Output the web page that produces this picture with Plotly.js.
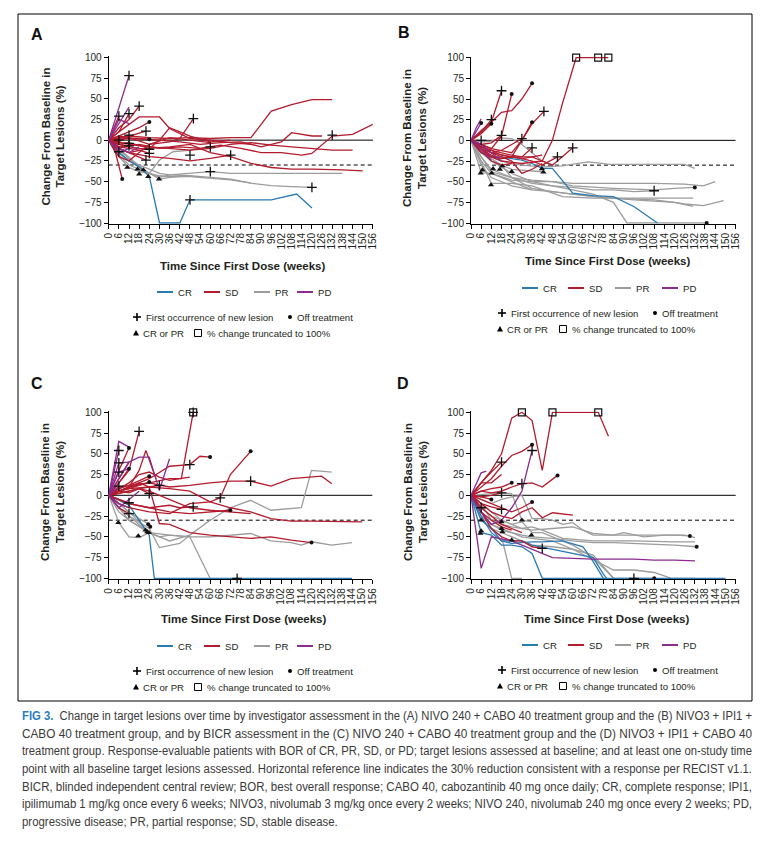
<!DOCTYPE html>
<html><head><meta charset="utf-8">
<script src="https://cdn.plot.ly/plotly-3.0.1.min.js"></script>
<style>
html,body{margin:0;padding:0;background:#fff;}
#wrap{position:relative;width:769px;height:844px;overflow:hidden;}
#chart{position:absolute;left:0;top:0;width:769px;height:844px;}
#cap{position:absolute;left:22px;top:708px;width:730px;font-family:"Liberation Sans",Arial,sans-serif;font-size:12px;line-height:17.7px;color:#3a3a3a;}
#cap div{white-space:nowrap;height:17.7px;}
#cap span{display:inline-block;transform-origin:0 50%;}
#cap b{color:#2a7dbf;}
</style></head>
<body><div id="wrap"><div id="chart"></div>
<div id="cap">
<div><span><b>FIG 3.</b>&nbsp; Change in target lesions over time by investigator assessment in the (A) NIVO 240 + CABO 40 treatment group and the (B) NIVO3 + IPI1 +</span></div>
<div><span>CABO 40 treatment group, and by BICR assessment in the (C) NIVO 240 + CABO 40 treatment group and the (D) NIVO3 + IPI1 + CABO 40</span></div>
<div><span>treatment group. Response-evaluable patients with BOR of CR, PR, SD, or PD; target lesions assessed at baseline; and at least one on-study time</span></div>
<div><span>point with all baseline target lesions assessed. Horizontal reference line indicates the 30% reduction consistent with a response per RECIST v1.1.</span></div>
<div><span>BICR, blinded independent central review; BOR, best overall response; CABO 40, cabozantinib 40 mg once daily; CR, complete response; IPI1,</span></div>
<div><span>ipilimumab 1 mg/kg once every 6 weeks; NIVO3, nivolumab 3 mg/kg once every 2 weeks; NIVO 240, nivolumab 240 mg once every 2 weeks; PD,</span></div>
<div class="last"><span>progressive disease; PR, partial response; SD, stable disease.</span></div>
</div></div>
<script>
// ---------- tick labels ----------
const weekTicks = [0,6,12,18,24,30,36,42,48,54,60,66,72,78,84,90,96,102,108,114,120,126,132,138,144,150,156];
const pctTicks = [-100,-75,-50,-25,0,25,50,75,100];
const borNames = ['CR','SD','PR','PD'];
const panelLetters = ['A','B','C','D'];

// ---------- Panel A ----------
const A_bor = ['SD','SD','SD','SD','SD','SD','SD','SD','SD','SD','SD','SD','SD','SD','SD','SD','SD','SD','SD','SD','SD','SD','SD','SD',
  'PR','PR','PR','PR','PR','PR','CR','PD','PD','PD','PD','PD'];
const A_weeks = [
 [0,6,12,24,36,48,60,72,84,96,108,120,132],
 [0,6,18,30,42,54,66,78,90,102,114,120,132,144,156],
 [0,6,18,30,42,54,66,78,90,102,108,120,126],
 [0,12,24,36,48,60,72,84,96,108,120,132,144],
 [0,6,12,24,36,48,60,72,84,96,108,120,138,150],
 [0,6,12,24,36,42,50],
 [0,6,12,24,36,48,60,72],
 [0,6,18,30,36,48,60,72,84],
 [0,6,12,18],
 [0,6],
 [0,6,12],
 [0,6,12,18,24],
 [0,12,22],
 [0,12,24],
 [0,6,12],
 [0,6,12],
 [0,6,12],
 [0,6],
 [0,4,8],
 [0,6,12,18,24],
 [0,6,12,18,24],
 [0,6,12,18,22],
 [0,6,12,24,30,36,42,48,60,72],
 [0,6,12,18,24,36,48,60],
 [0,6,12,18,24,30,36,48,60,72,84,96,108,120,138],
 [0,6,12,18,24,30,36,48,60,72,84,96,108,120],
 [0,6,12,18,24,30,36,48,60,72,84],
 [0,6,12,18,24,30,38,48,60],
 [0,6,12,18,24,30,36,48],
 [0,6,12,18,21],
 [0,6,12,18,24,30,42,48,96,111,120],
 [0,6,12],
 [0,6,12],
 [0,6,12],
 [0,6,12],
 [0,6,12,18]
];
const A_pct = [
 [0,-2,5,3,2,3,2,3,3,35,43,49,49],
 [0,-8,-5,-10,-8,-10,-6,-10,-15,-15,-18,-16,5,7,19],
 [0,3,2,0,-2,-5,-3,-2,-8,-2,9,5,5],
 [0,-5,-8,-10,-12,-10,-5,-3,-6,-8,-10,-12,-12],
 [0,-5,-3,-10,-8,-5,-15,-20,-28,-33,-35,-35,-36,-37],
 [0,5,3,-5,-2,2,26],
 [0,-10,-15,-20,-22,-25,-22,-18],
 [0,10,28,28,14,2,0,-3,-5],
 [0,15,25,41],
 [0,29],
 [0,10,32],
 [0,5,10,15,22],
 [0,5,11],
 [0,2,1],
 [0,2,6],
 [0,-3,-4],
 [0,-5,-7],
 [0,-14],
 [0,-15,-47],
 [0,-5,-8,-10,-11],
 [0,-8,-10,-12,-16],
 [0,-10,-15,-20,-24],
 [0,-10,-15,-10,0,15,10,5,-2,0],
 [0,-20,-25,-15,-5,3,0,-3],
 [0,-20,-33,-38,-40,-45,-42,-40,-38,-40,-40,-40,-40,-40,-40],
 [0,-15,-25,-30,-35,-40,-42,-43,-45,-47,-52,-55,-56,-57],
 [0,-18,-30,-35,-40,-43,-44,-44,-46,-48,-52],
 [0,-15,-25,-33,-40,-24,-14,-12,-8],
 [0,-12,-22,-33,-40,-47,-45,-43],
 [0,-10,-20,-30,-36],
 [0,-15,-25,-32,-44,-100,-100,-72,-72,-65,-82],
 [0,40,78],
 [0,20,40],
 [0,25,20],
 [0,-15,-10],
 [0,-10,-15,-8]
];
const A_newW = [12,6,12,18,22,12,12,12,6,6,24,24,22,50,72,48,60,60,120,48,132];
const A_newP = [78,29,32,41,11,6,-4,-7,-14,0,-11,-16,-24,26,-18,-18,-38,-8,-57,-72,6];
const A_offW = [24,24,8];
const A_offP = [22,1,-47];
const A_respW = [11,17,18,20.5,23.4,29.7];
const A_respP = [-33,-35,-41,-36,-44,-47];
const A_truncW = [];
const A_truncP = [];

// ---------- Panel B ----------
const B_bor = ['SD','SD','SD','SD','SD','SD','SD','SD','SD','SD','SD','SD','SD','SD','SD','SD','SD',
  'PR','PR','PR','PR','PR','PR','PR','PR','PR','PR','PR','CR','PD','PD','PD','PD'];
const B_weeks = [
 [0,6,12,18,24,30,36,42,48,54,62,75,81],
 [0,6,12,18],
 [0,6,12,18,24],
 [0,6,12,18,24,30,36],
 [0,12,24,30,36],
 [0,12,24,30,36,43],
 [0,6,12],
 [0,6,12],
 [0,6,12,18],
 [0,6,12,18,24,30],
 [0,6,12,18,24,30,36],
 [0,6,12,18,24,30,36,42,51],
 [0,6,12,18,30,42,48,60],
 [0,6,12,18,24,30,36,42],
 [0,6],
 [0,6,12,18,24,30,36,42],
 [0,6,12,18,24],
 [0,6,12,18,24,30,42,54,69,82,96,120,126,132],
 [0,6,12,24,36,48,60,84,108,120,132],
 [0,6,12,24,36,48,60,84,108,126,137,144],
 [0,6,12,24,36,48,60,72,96,120,126,137,149],
 [0,6,12,24,36,48,60,72,84,92,139],
 [0,6,12,24,36,48,60,72,84,96,108],
 [0,6,12,24,36,54,72,96,120,131],
 [0,6,12,18,24,36,48,60,84,108,120,131],
 [0,6,12,18,24,30,36,42,48],
 [0,6,12,18,24,30,36,42],
 [0,6,12,18,24,36],
 [0,6,12,18,24,30,36,42,48,60,72,84,96,110],
 [0,6],
 [0,3,6],
 [0,6,12],
 [0,6,12,18]
];
const B_pct = [
 [0,-8,-12,-18,-20,-22,-20,-25,0,45,100,100,100],
 [0,10,22,60],
 [0,-5,-10,5,56],
 [0,12,22,34,36,50,69],
 [0,-15,-20,0,22],
 [0,-10,-15,0,20,35],
 [0,10,25],
 [0,8,20],
 [0,-5,-3,6],
 [0,-10,-15,-12,-5,2],
 [0,-8,-12,-15,-18,-20,-9],
 [0,-15,-20,-22,-20,-22,-25,-30,-20],
 [0,-10,-20,-25,-28,-25,-30,-9],
 [0,-5,-15,-20,-25,-40,-35,-28],
 [0,0],
 [0,-10,-18,-22,-20,-20,-20,-18],
 [0,-12,-25,-30,-28],
 [0,-10,-20,-25,-28,-30,-32,-31,-26,-29,-29,-29,-29,-34],
 [0,-20,-38,-45,-48,-50,-55,-58,-60,-58,-57],
 [0,-25,-40,-48,-50,-50,-52,-52,-52,-53,-55,-50],
 [0,-30,-45,-55,-60,-62,-65,-68,-72,-75,-77,-79,-73],
 [0,-20,-35,-45,-52,-55,-60,-65,-75,-100,-100],
 [0,-15,-25,-40,-50,-55,-57,-60,-60,-62,-61],
 [0,-25,-52,-52,-55,-68,-70,-70,-70,-70],
 [0,-10,-25,-30,-45,-58,-62,-65,-70,-72,-75,-80],
 [0,-2,-1,3,2,-5,-15,-25,-30],
 [0,-15,-22,-30,-35,-36,-37,-38],
 [0,-39,-40,-45,-50,-60],
 [0,-15,-20,-20,-22,-24,-28,-34,-34,-64,-67,-68,-80,-100],
 [0,21],
 [0,15,26],
 [0,-10,-24],
 [0,-5,-15,-25]
];
const B_newW = [18,12,18,30,36,51,60,43,6,108];
const B_newP = [60,25,6,2,-9,-20,-9,35,0,-61];
const B_offW = [6,12,24,36,36,132,139];
const B_offP = [21,20,56,69,22,-57,-100];
const B_respW = [5.7,6.7,12.2,13,11.8,17,18.5,24,41.8,42.7];
const B_respP = [-39.7,-36,-39.7,-34.4,-54,-35,-31,-37.7,-34.4,-38.5];
const B_truncW = [62,75,81];
const B_truncP = [100,100,100];

// ---------- Panel C ----------
const C_bor = ['SD','SD','SD','SD','SD','SD','SD','SD','SD','SD','SD','SD','SD','SD','SD','SD','SD','SD','SD','SD','SD',
  'PR','PR','PR','PR','PR','PR','PR','CR','PD','PD','PD','PD','PD','PD','PD','PD'];
const C_weeks = [
 [0,6,12,18],
 [0,12,24,36,43,50],
 [0,12,24,36,48,54,60],
 [0,6,12,24,36,48,60,66,72,84],
 [0,6,12,24,36,48,60,72,84,96,108,126,132],
 [0,6,12,24,36,48,60,72,84,96,108,120,150],
 [0,6,12,18,24,30,36,48,60,72,84,96,108,120],
 [0,12,24,36,48,60,72],
 [0,6,12,24,36,42,50],
 [0,6,12],
 [0,6,12],
 [0,6,12],
 [0,12,18,22,28],
 [0,12,18,24],
 [0,6,12,18,24,30],
 [0,6,12,18,24],
 [0,6,12,18,24],
 [0,6,12],
 [0,6,12],
 [0,6,12,18,24,30,36,42,48],
 [0,6,12,18,24,30,36,42,48,60,72,84],
 [0,6,12,18,24,30,36,48,60,72,84,96,108,114,120,132,144],
 [0,6,12,24,36,48,60,72,84,96,114,120,132],
 [0,12,24,36,48,60],
 [0,6,12,24,30,42,48],
 [0,6,12,18,22],
 [0,6,12,18,23],
 [0,6,12,18,24,25],
 [0,12,24,27,144],
 [0,6,12],
 [0,6],
 [0,6,12],
 [0,6,12],
 [0,12,18,24,30,36],
 [0,6],
 [0,6,12],
 [0,6,12,18]
];
const C_pct = [
 [0,15,30,77],
 [0,10,15,20,20,100],
 [0,10,20,35,37,47,46],
 [0,-10,-15,-20,-22,-10,-8,-3,25,53],
 [0,10,12,15,10,12,15,17,17,11,20,23,14],
 [0,5,8,10,8,5,-8,-15,-20,-28,-31,-31,-32],
 [0,5,10,15,10,-34,-35,-45,-48,-50,-52,-50,-54,-57],
 [0,-10,-15,-20,-22,-20,-18],
 [0,-5,-10,-15,-12,-15,-14],
 [0,30,57],
 [0,20,40],
 [0,15,32],
 [0,10,30,54,20],
 [0,5,8,2],
 [0,5,3,8,10,12],
 [0,8,12,18,23],
 [0,5,8,12,16],
 [0,-5,-9],
 [0,-15,-22],
 [0,8,15,25,28,22,18,20,22],
 [0,2,5,8,5,0,-5,-10,-15,-18,-20,-22],
 [0,-33,-50,-51,-45,-50,-48,-50,-50,-48,-46,-55,-57,-60,-56,-60,-57],
 [0,-20,-30,-45,-55,-48,-30,-15,-6,-18,-15,30,28],
 [0,-30,-45,-48,-50,-100],
 [0,-15,-25,-40,-63,-58,-48],
 [0,-15,-25,-35,-42],
 [0,-10,-20,-32,-44],
 [0,-10,-20,-28,-35,-38],
 [0,-12,-48,-100,-100],
 [0,65,58],
 [0,54],
 [0,39,40],
 [0,28,32],
 [0,40,46,46,6,44],
 [0,11],
 [0,-10,-15],
 [0,-15,-5,5]
];
const C_newW = [18,50,48,66,84,50,6,6,6,6,12,12,24,30,76];
const C_newP = [77,100,37,-3,17,-14,54,39,28,11,-9,-22,2,12,-100];
const C_offW = [60,84,120,72,12,12,24,24,23.4,24.6];
const C_offP = [46,53,-57,-18,57,32,23,16,-35,-38];
const C_respW = [5.7,17.5,21.8,22.8,23.8];
const C_respP = [-33,-49,-42,-44,-45];
const C_truncW = [50];
const C_truncP = [100];

// ---------- Panel D ----------
const D_bor = ['SD','SD','SD','SD','SD','SD','SD','SD','SD','SD','SD','SD','SD','SD','SD',
  'PR','PR','PR','PR','PR','PR','PR','PR','PR','CR','CR','CR','PD','PD','PD'];
const D_weeks = [
 [0,6,12,18,24,30,36,42,48,60,75,81],
 [0,6,12,18,24,30,36],
 [0,6,12,18,24,30,36,42,51],
 [0,6,12,18],
 [0,6,12,18,24],
 [0,6,12,18,24,30,36,42,48,60],
 [0,6,12,24,30,36],
 [0,6,12,18,24,30,36,42],
 [0,6,12,18],
 [0,6],
 [0,6,12,18],
 [0,6,12],
 [0,6,12,18,24],
 [0,6,12,18,24,30],
 [0,6,12,18],
 [0,6,12,18,24,30,36,48,60,72,84,90,102,114,126,132],
 [0,6,12,18,24,30,36,48,60,72,84,96,108,120,133],
 [0,6,12,18,24,30,36,42,48,54,60,66,72,84,96,108,120,129],
 [0,6,12,18,24,30,36,48,60,72,84],
 [0,6,12,18,24,30,36,48,60,72,84,96,108,118,132],
 [0,6,12,18,24,30],
 [0,6,12,18,24,30,36,42,48,60,72,84,96,108],
 [0,6,12,18,24,30,36,42,54,72,84,96,120,132],
 [0,12,18,24,30,36],
 [0,6,12,18,24,30,36,42,150],
 [0,6,12,18,24,30,36,48,60,72,78,80],
 [0,6,12,18,24,30,36,42,54,66,72,78],
 [0,6,12,18,24,30,36],
 [0,6,12,24,30,36,48,60,72,84,96,108,120,132],
 [0,6,9]
];
const D_pct = [
 [0,15,30,50,93,100,90,30,100,100,100,71],
 [0,10,20,35,48,53,61],
 [0,5,3,5,10,14,15,10,24],
 [0,15,28,40],
 [0,5,8,10,15],
 [0,-10,-20,-25,-28,-20,-15,-27,-21,-24],
 [0,-5,-10,-20,-15,-8],
 [0,-20,-40,-50,-55,-55,-62,-64],
 [0,-2,0,3],
 [0,-15],
 [0,-10,-14,-17],
 [0,-2,-5],
 [0,-20,-30,-38,-42],
 [0,-15,-25,-35,-40,-45],
 [0,15,15,25],
 [0,-10,-30,-35,-38,-40,-42,-40,-38,-46,-48,-45,-50,-48,-48,-51],
 [0,-20,-35,-42,-45,-48,-50,-52,-55,-57,-57,-58,-59,-60,-62],
 [0,-5,-10,-5,-2,0,-28,-28,-30,-35,-33,-42,-48,-48,-48,-48,-48,-49],
 [0,-30,-40,-45,-50,-55,-60,-62,-65,-72,-100],
 [0,-25,-35,-40,-45,-50,-52,-55,-65,-78,-90,-90,-93,-100,-100],
 [0,-20,-40,-50,-100,-100],
 [0,-15,-25,-30,-35,-32,-45,-45,-50,-60,-75,-100,-100,-100],
 [0,-10,-20,-30,-35,-40,-38,-42,-52,-55,-55,-55,-56,-56],
 [0,2,3,2,-30,-32],
 [0,-45,-48,-60,-60,-62,-70,-100,-100],
 [0,-30,-40,-55,-55,-55,-60,-65,-70,-75,-95,-100],
 [0,-25,-45,-55,-58,-57,-56,-56,-55,-62,-80,-100],
 [0,-20,-35,-30,-15,5,54],
 [0,-88,-50,-55,-60,-65,-75,-76,-77,-77,-77,-78,-78,-79],
 [0,27,29]
];
const D_newW = [18,30,36,18,6,18,42,96];
const D_newP = [40,14,54,3,-15,-17,-64,-100];
const D_offW = [36,51,24,12,36,129,133,108];
const D_offP = [61,24,15,-5,-8,-49,-62,-100];
const D_respW = [5.5,6,6,18,18,18.5,24,30,35.6];
const D_respP = [-46,-43,-30,-32,-40,-44,-54,-30,-48];
const D_truncW = [30,48,75];
const D_truncP = [100,100,100];

// ---------- styling ----------
const COLORS = {CR:'#2a7ab3', SD:'#b31b2e', PR:'#9c9c9c', PD:'#8b2c8e'};
const DRAW_ORDER = ['PR','CR','SD','PD'];
const W = 769, H = 844;
const X = px => px / W;
const Y = py => 1 - py / H;
const SANS = '"Liberation Sans",Arial,sans-serif';
const INK = '#231f20';

const panelData = {
  A:{bor:A_bor,w:A_weeks,p:A_pct,nw:A_newW,np:A_newP,ow:A_offW,op:A_offP,rw:A_respW,rp:A_respP,tw:A_truncW,tp:A_truncP},
  B:{bor:B_bor,w:B_weeks,p:B_pct,nw:B_newW,np:B_newP,ow:B_offW,op:B_offP,rw:B_respW,rp:B_respP,tw:B_truncW,tp:B_truncP},
  C:{bor:C_bor,w:C_weeks,p:C_pct,nw:C_newW,np:C_newP,ow:C_offW,op:C_offP,rw:C_respW,rp:C_respP,tw:C_truncW,tp:C_truncP},
  D:{bor:D_bor,w:D_weeks,p:D_pct,nw:D_newW,np:D_newP,ow:D_offW,op:D_offP,rw:D_respW,rp:D_respP,tw:D_truncW,tp:D_truncP}
};
const boxes = {
  A:{x0:108.7,x1:372.9,yt:57.3,yb:223},
  B:{x0:471,x1:735.5,yt:57.7,yb:223},
  C:{x0:108.7,x1:372.3,yt:412.3,yb:578.3},
  D:{x0:471,x1:735.7,yt:412.3,yb:578.3}
};

const traces = [];
const layout = {
  width:W, height:H, margin:{l:0,r:0,t:0,b:0}, paper_bgcolor:'#fff', plot_bgcolor:'rgba(0,0,0,0)',
  showlegend:false, hovermode:false, shapes:[], annotations:[]
};

panelLetters.forEach((L,i) => {
  const n = i===0 ? '' : String(i+1);
  const xa = 'x'+n, ya = 'y'+n;
  const b = boxes[L], d = panelData[L];
  const ppu = (b.yb - b.yt)/200;
  layout['xaxis'+n] = {
    domain:[X(b.x0), X(b.x1)], range:[0,156], anchor:ya,
    tickmode:'array', tickvals:weekTicks, ticktext:weekTicks.map(String), tickangle:-90,
    ticks:'outside', ticklen:4, tickwidth:1, tickcolor:'#000',
    showline:true, linecolor:'#000', linewidth:1, showgrid:false, zeroline:false,
    tickfont:{family:SANS, size:10, color:INK}, layer:'below traces', fixedrange:true
  };
  layout['yaxis'+n] = {
    domain:[Y(b.yb + ppu), Y(b.yt - ppu)], range:[-101,101], anchor:xa,
    tickmode:'array', tickvals:pctTicks, ticktext:pctTicks.map(v => v<0 ? '\u2212'+Math.abs(v) : String(v)),
    ticks:'outside', ticklen:4, tickwidth:1, tickcolor:'#000',
    showline:true, linecolor:'#000', linewidth:1, showgrid:false, zeroline:false,
    tickfont:{family:SANS, size:10, color:INK}, layer:'below traces', fixedrange:true
  };
  layout.shapes.push({type:'line', xref:xa+' domain', yref:ya, x0:0, x1:1, y0:0, y1:0, line:{color:'#000', width:1}, layer:'below'});
  layout.shapes.push({type:'line', xref:xa+' domain', yref:ya, x0:0, x1:1, y0:-30, y1:-30, line:{color:'#000', width:1, dash:'4px,3px'}, layer:'below'});
  DRAW_ORDER.forEach(cat => {
    d.bor.forEach((bor,k) => {
      if (bor !== cat) return;
      traces.push({type:'scatter', mode:'lines', x:d.w[k], y:d.p[k], xaxis:xa, yaxis:ya,
        line:{color:COLORS[bor], width:1.3}, hoverinfo:'skip'});
    });
  });
  traces.push({type:'scatter', mode:'markers', x:d.rw, y:d.rp, xaxis:xa, yaxis:ya, cliponaxis:false,
    marker:{symbol:'triangle-up', size:5.5, color:'#111'}, hoverinfo:'skip'});
  traces.push({type:'scatter', mode:'markers', x:d.ow, y:d.op, xaxis:xa, yaxis:ya, cliponaxis:false,
    marker:{symbol:'circle', size:4, color:'#111'}, hoverinfo:'skip'});
  traces.push({type:'scatter', mode:'markers', x:d.tw, y:d.tp, xaxis:xa, yaxis:ya, cliponaxis:false,
    marker:{symbol:'square-open', size:7, color:'#111', line:{width:1.2, color:'#111'}}, hoverinfo:'skip'});
  traces.push({type:'scatter', mode:'markers', x:d.nw, y:d.np, xaxis:xa, yaxis:ya, cliponaxis:false,
    marker:{symbol:'cross-thin', size:7, color:'#111', line:{width:1.3, color:'#111'}}, hoverinfo:'skip'});
});

const letterPos = {A:[36.7,34], B:[404,33], C:[36.7,383], D:[403,383]};
const yTitlePos = {A:[52.5,137], B:[415,138], C:[52,492], D:[415,492]};
const xTitlePos = {A:[242.5,266], B:[607,261], C:[243,619], D:[606.5,619]};
panelLetters.forEach(L => {
  layout.annotations.push({xref:'paper', yref:'paper', x:X(letterPos[L][0]), y:Y(letterPos[L][1]), text:'<b>'+L+'</b>',
    showarrow:false, xanchor:'center', yanchor:'middle', font:{family:SANS, size:16, color:'#111'}});
  layout.annotations.push({xref:'paper', yref:'paper', x:X(yTitlePos[L][0]), y:Y(yTitlePos[L][1]),
    text:'<b>Change From Baseline in<br>Target Lesions (%)</b>', textangle:-90,
    showarrow:false, xanchor:'center', yanchor:'middle', font:{family:SANS, size:11.5, color:INK}});
  layout.annotations.push({xref:'paper', yref:'paper', x:X(xTitlePos[L][0]), y:Y(xTitlePos[L][1]),
    text:'<b>Time Since First Dose (weeks)</b>',
    showarrow:false, xanchor:'center', yanchor:'middle', font:{family:SANS, size:11.5, color:INK}});
});

const legendPos = {
  A:{r1:292, r2:317, r3:333, c:[157,204,254,297], g:[137,290,136,198]},
  B:{r1:288, r2:313, r3:329, c:[522,568,615,662], g:[502,655,500,563]},
  C:{r1:646, r2:671, r3:687, c:[157,204,254,297], g:[137,290,136,198]},
  D:{r1:645, r2:670, r3:686, c:[522,568,615,662], g:[502,655,500,563]}
};
const LF = {family:SANS, size:9.6, color:INK};
function txt(x,y,t){ layout.annotations.push({xref:'paper', yref:'paper', x:X(x), y:Y(y), text:t, showarrow:false, xanchor:'left', yanchor:'middle', font:LF}); }
function pl(x0,y0,x1,y1,color,w){ layout.shapes.push({type:'line', xref:'paper', yref:'paper', x0:X(x0), x1:X(x1), y0:Y(y0), y1:Y(y1), line:{color:color, width:w}}); }
panelLetters.forEach(L => {
  const g = legendPos[L];
  borNames.forEach((nm,j) => {
    const x = g.c[j];
    pl(x, g.r1, x+16, g.r1, COLORS[nm], 2);
    txt(x+19, g.r1, nm);
  });
  const cx = g.g[0];
  pl(cx-4, g.r2, cx+4, g.r2, '#000', 1.6);
  pl(cx, g.r2-4, cx, g.r2+4, '#000', 1.6);
  txt(cx+7, g.r2, 'First occurrence of new lesion');
  const ox = g.g[1];
  layout.shapes.push({type:'circle', xref:'paper', yref:'paper', x0:X(ox-2), x1:X(ox+2), y0:Y(g.r2+2), y1:Y(g.r2-2), fillcolor:'#000', line:{width:0}});
  txt(ox+5, g.r2, 'Off treatment');
  const tx = g.g[2], ty = g.r3;
  layout.shapes.push({type:'path', xref:'paper', yref:'paper',
    path:'M '+X(tx-3)+','+Y(ty+2.5)+' L '+X(tx+3)+','+Y(ty+2.5)+' L '+X(tx)+','+Y(ty-3)+' Z', fillcolor:'#000', line:{width:0}});
  txt(tx+5, ty, 'CR or PR');
  const sx = g.g[3];
  layout.shapes.push({type:'rect', xref:'paper', yref:'paper', x0:X(sx-3.5), x1:X(sx+3.5), y0:Y(ty+3.5), y1:Y(ty-3.5), line:{color:'#000', width:1}});
  txt(sx+7, ty, '% change truncated to 100%');
});

layout.shapes.push({type:'rect', xref:'paper', yref:'paper', x0:X(18), x1:X(752), y0:Y(701), y1:Y(14), line:{color:'#000', width:1}});

Plotly.newPlot('chart', traces, layout, {staticPlot:true, displayModeBar:false});

// caption: justify each line to the text block width by horizontal scaling
(function(){
  const lines = Array.from(document.querySelectorAll('#cap div'));
  const target = 730;
  const scales = [];
  lines.forEach(d => {
    if (d.classList.contains('last')) return;
    const s = d.querySelector('span');
    const w = s.getBoundingClientRect().width;
    const k = target / w;
    scales.push(k);
    s.style.transform = 'scaleX(' + k + ')';
  });
  const avg = scales.reduce((a,b)=>a+b,0) / scales.length;
  lines.forEach(d => {
    if (d.classList.contains('last')) d.querySelector('span').style.transform = 'scaleX(' + avg + ')';
  });
})();
</script></body></html>
